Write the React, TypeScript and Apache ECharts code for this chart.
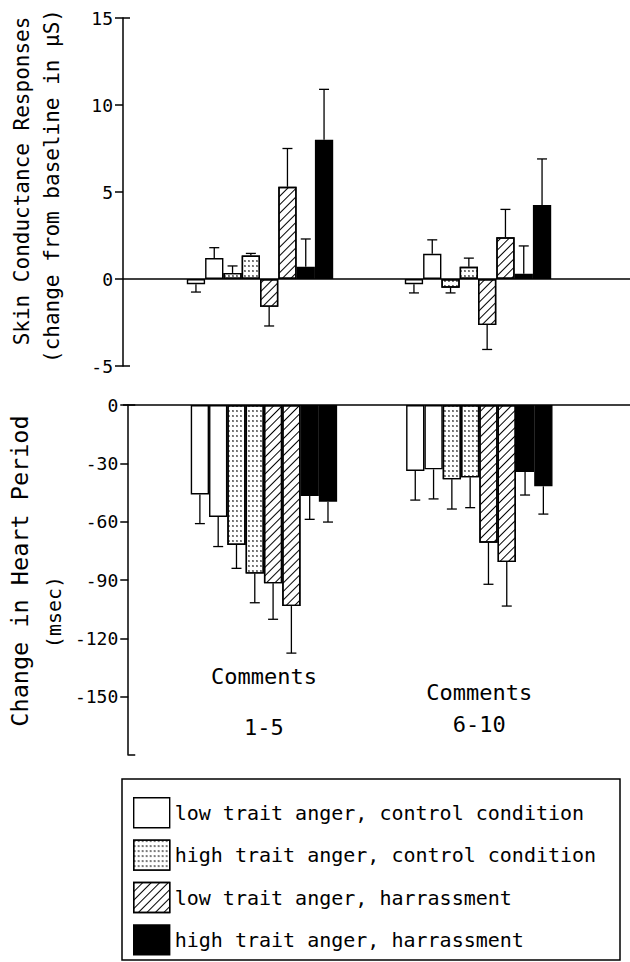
import React, { useEffect, useRef } from "react";
import * as echarts from "echarts";

// ---------- data ----------
const groups = ["1-5", "6-10"];
const groupTitle = "Comments";
const conditions = [
  "low trait anger, control condition",
  "high trait anger, control condition",
  "low trait anger, harrassment",
  "high trait anger, harrassment",
];

// Each array: [group1 bar A, group1 bar B, group2 bar A, group2 bar B]
// Skin conductance responses (change from baseline in µS)
const scrLowControl = [-0.3, 1.2, -0.3, 1.45];
const scrHighControl = [0.35, 1.35, -0.5, 0.7];
const scrLowHarass = [-1.6, 5.3, -2.65, 2.4];
const scrHighHarass = [0.7, 8.0, 0.3, 4.25];
const scrLowControlErr = [0.45, 0.6, 0.5, 0.8];
const scrHighControlErr = [0.4, 0.12, 0.3, 0.5];
const scrLowHarassErr = [1.1, 2.2, 1.4, 1.6];
const scrHighHarassErr = [1.6, 2.9, 1.6, 2.65];

// Change in heart period (msec)
const hpLowControl = [-46, -57.6, -33.9, -33.1];
const hpHighControl = [-72, -86.7, -38.2, -37.2];
const hpLowHarass = [-91.7, -103.4, -70.8, -80.8];
const hpHighHarass = [-46.8, -49.7, -34.5, -41.8];
const hpLowControlErr = [15, 15.2, 15, 15.2];
const hpHighControlErr = [12, 15, 15.3, 15.6];
const hpLowHarassErr = [18.5, 24.2, 21.4, 22.6];
const hpHighHarassErr = [12, 10.5, 11.8, 14.3];

const scrTicks = { min: -5, max: 15, interval: 5 };
const hpTicks = { min: -180, max: 0, interval: 30 };

// ---------- styling ----------
const MONO = "DejaVu Sans Mono";
const BAR_W = 18.3;
const GRID_LEFT = 151;
const GRID_RIGHT = 43;
const Y_OFFSET = 28;
const AXIS_X = GRID_LEFT - Y_OFFSET;
const LINE_W = 1.5;

const dotDecal = {
  symbol: "circle",
  symbolSize: 0.75,
  dashArrayX: [2, 2],
  dashArrayY: [2, 3],
  rotation: 0,
  color: "#000",
};
const hatchDecal = {
  symbol: "rect",
  symbolSize: 1,
  dashArrayX: [1, 0],
  dashArrayY: [1, 5],
  rotation: -Math.PI / 4,
  color: "#000",
};

const condStyles: any[] = [
  { color: "#fff", borderColor: "#000", borderWidth: 1.4 },
  { color: "#fff", borderColor: "#000", borderWidth: 1.4, decal: dotDecal },
  { color: "#fff", borderColor: "#000", borderWidth: 1.4, decal: hatchDecal },
  { color: "#000", borderColor: "#000", borderWidth: 1.4 },
];

function buildSeries(
  means: number[][],
  errs: number[][],
  xAxisIndex: number,
  yAxisIndex: number
) {
  const out: any[] = [];
  const errData: number[][] = [];
  means.forEach((arr, c) => {
    for (let s = 0; s < 2; s++) {
      out.push({
        type: "bar",
        name: conditions[c],
        xAxisIndex,
        yAxisIndex,
        barWidth: BAR_W,
        barGap: "0%",
        data: [arr[s], arr[2 + s]],
        itemStyle: condStyles[c],
        emphasis: { disabled: true },
        silent: true,
      });
      for (let g = 0; g < 2; g++) {
        errData.push([g, c * 2 + s, arr[g * 2 + s], errs[c][g * 2 + s]]);
      }
    }
  });
  out.push({
    type: "custom",
    xAxisIndex,
    yAxisIndex,
    silent: true,
    z: 5,
    encode: { x: 0, y: 2 },
    data: errData,
    renderItem: (params: any, api: any) => {
      const cat = api.value(0);
      const k = api.value(1);
      const m = api.value(2);
      const e = api.value(3);
      const base = api.coord([cat, m]);
      const tip = api.coord([cat, m + (m < 0 ? -e : e)]);
      const x = base[0] + (k - 3.5) * BAR_W;
      const st = { stroke: "#000", lineWidth: 1.3 };
      return {
        type: "group",
        children: [
          { type: "line", shape: { x1: x, y1: base[1], x2: x, y2: tip[1] }, style: st },
          { type: "line", shape: { x1: x - 5, y1: tip[1], x2: x + 5, y2: tip[1] }, style: st },
        ],
      };
    },
  });
  return out;
}

function mainY(gridIndex: number, t: any, name: string, rich: any, showMin: boolean) {
  return {
    type: "value",
    gridIndex,
    position: "left",
    offset: Y_OFFSET,
    min: t.min,
    max: t.max,
    interval: t.interval,
    axisLine: { show: true, onZero: false, lineStyle: { color: "#000", width: LINE_W } },
    axisTick: { show: true, inside: false, length: 8, lineStyle: { color: "#000", width: LINE_W } },
    axisLabel: {
      margin: 10,
      fontFamily: MONO,
      fontSize: 18,
      color: "#000",
      showMinLabel: showMin,
    },
    splitLine: { show: false },
    name,
    nameLocation: "middle",
    nameRotate: 90,
    nameGap: 56,
    nameTextStyle: { color: "#000", fontFamily: MONO, rich },
  };
}

function capY(gridIndex: number, t: any) {
  return {
    type: "value",
    gridIndex,
    position: "left",
    offset: Y_OFFSET,
    min: t.min,
    max: t.max,
    interval: t.max - t.min,
    axisLine: { show: false },
    axisTick: { show: true, inside: true, length: 7, lineStyle: { color: "#000", width: LINE_W } },
    axisLabel: { show: false },
    splitLine: { show: false },
  };
}

export default function App() {
  const ref = useRef<HTMLDivElement>(null);
  useEffect(() => {
    if (!ref.current) return;
    const chart = echarts.init(ref.current, null, { renderer: "svg" });

    const topSeries = buildSeries(
      [scrLowControl, scrHighControl, scrLowHarass, scrHighHarass],
      [scrLowControlErr, scrHighControlErr, scrLowHarassErr, scrHighHarassErr],
      0,
      0
    );
    const botSeries = buildSeries(
      [hpLowControl, hpHighControl, hpLowHarass, hpHighHarass],
      [hpLowControlErr, hpHighControlErr, hpLowHarassErr, hpHighHarassErr],
      1,
      2
    );

    const txt = { fontFamily: MONO, color: "#000" };
    chart.setOption({
      animation: false,
      backgroundColor: "#fff",
      textStyle: { fontFamily: MONO, color: "#000" },
      grid: [
        { left: GRID_LEFT, right: GRID_RIGHT, top: 18, height: 348 },
        { left: GRID_LEFT, right: GRID_RIGHT, top: 405, height: 350 },
      ],
      xAxis: [
        {
          type: "category",
          gridIndex: 0,
          data: groups,
          axisLine: { show: false },
          axisTick: { show: false },
          axisLabel: { show: false },
        },
        {
          type: "category",
          gridIndex: 1,
          data: groups,
          position: "bottom",
          axisLine: { show: false, onZero: false },
          axisTick: { show: false },
          axisLabel: {
            inside: true,
            margin: 14,
            interval: 0,
            formatter: (v: string, i: number) =>
              i === 0 ? `{c1|${groupTitle}}\n{n1|${v}}` : `{c2|${groupTitle}}\n{n2|${v}}`,
            rich: {
              c1: { ...txt, fontSize: 22, lineHeight: 74 },
              n1: { ...txt, fontSize: 22, lineHeight: 28 },
              c2: { ...txt, fontSize: 22, lineHeight: 30 },
              n2: { ...txt, fontSize: 22, lineHeight: 34 },
            },
          },
        },
      ],
      yAxis: [
        mainY(
          0,
          scrTicks,
          "{a|Skin Conductance Responses}\n{b|(change from baseline in μS)}",
          {
            a: { ...txt, fontSize: 21, lineHeight: 30, padding: [0, 0, 0, 22] },
            b: { ...txt, fontSize: 21, lineHeight: 30, padding: [0, 0, 0, 12] },
          },
          true
        ),
        capY(0, scrTicks),
        mainY(
          1,
          hpTicks,
          "{a|Change in Heart Period}\n{b|(msec)}",
          {
            a: { ...txt, fontSize: 23.5, lineHeight: 34, padding: [0, 0, 0, 18] },
            b: { ...txt, fontSize: 20, lineHeight: 34, padding: [0, 64, 0, 0] },
          },
          false
        ),
        capY(1, hpTicks),
      ],
      legend: {
        orient: "vertical",
        left: 133,
        top: 797,
        data: conditions,
        icon: "rect",
        itemWidth: 36,
        itemHeight: 30,
        itemGap: 11,
        padding: 0,
        selectedMode: false,
        itemStyle: { borderColor: "#000", borderWidth: 1.4 },
        textStyle: { fontFamily: MONO, fontSize: 20, color: "#000" },
      },
      series: [...topSeries, ...botSeries],
    });

    const yTop0 = chart.convertToPixel({ yAxisIndex: 0 }, 0) as number;
    const yBot0 = chart.convertToPixel({ yAxisIndex: 2 }, 0) as number;
    const W = chart.getWidth();
    chart.setOption({
      graphic: [
        {
          type: "line",
          z: 10,
          shape: { x1: AXIS_X, y1: yTop0, x2: W, y2: yTop0 },
          style: { stroke: "#000", lineWidth: LINE_W },
        },
        {
          type: "line",
          z: 10,
          shape: { x1: AXIS_X, y1: yBot0, x2: W, y2: yBot0 },
          style: { stroke: "#000", lineWidth: LINE_W },
        },
        {
          type: "rect",
          z: 10,
          shape: { x: 122, y: 779, width: 498, height: 181 },
          style: { fill: "none", stroke: "#000", lineWidth: LINE_W },
        },
      ],
    });

    return () => chart.dispose();
  }, []);

  return (
    <div
      ref={ref}
      style={{ position: "fixed", left: 0, top: 0, width: 630, height: 962, background: "#fff" }}
    />
  );
}
